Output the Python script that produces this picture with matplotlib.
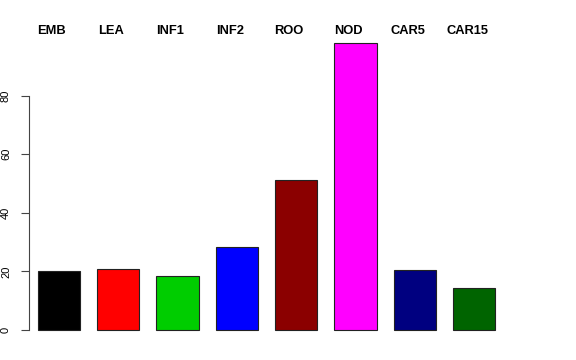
import matplotlib
matplotlib.use('Agg')
from matplotlib import pyplot as plt

categories = ['EMB', 'LEA', 'INF1', 'INF2', 'ROO', 'NOD', 'CAR5', 'CAR15']
values = [20.3, 21.0, 18.5, 28.2, 51.3, 98.1, 20.5, 14.2]
colors = ['#000000', '#FF0000', '#00CD00', '#0000FF', '#8B0000', '#FF00FF', '#000080', '#006400']
yticks = [0, 20, 40, 60, 80]

plt.rcParams['font.family'] = ['Liberation Sans', 'DejaVu Sans']

fig = plt.figure(figsize=(5.76, 3.6), dpi=100)
ax = fig.add_axes([29 / 576, 18.5 / 360, 475 / 576, 310 / 360])

x = list(range(len(categories)))
ax.bar(x, values, width=0.71, color=colors, edgecolor='#222222', linewidth=0.8)

ax.set_xlim(-0.5, len(categories) - 0.5)
ax.set_ylim(-3.92, 98 + 3.92)

# group labels above the plot, shifted a little left of each bar
for i, name in enumerate(categories):
    ax.text(i - 0.12, 1.0, name, transform=ax.get_xaxis_transform(),
            ha='center', va='center', fontsize=9.3, fontweight='bold', clip_on=False)

for side in ['top', 'right', 'bottom']:
    ax.spines[side].set_visible(False)
ax.spines['left'].set_bounds(0, 80)
ax.spines['left'].set_color('#444444')
ax.spines['left'].set_linewidth(0.8)
ax.set_xticks([])
ax.set_yticks(yticks)
ax.set_yticklabels([str(t) for t in yticks], rotation=90, va='center', fontsize=8)
ax.tick_params(axis='y', length=5.5, width=0.8, color='#444444', pad=7.5)

fig.savefig('out.png', dpi=100)
